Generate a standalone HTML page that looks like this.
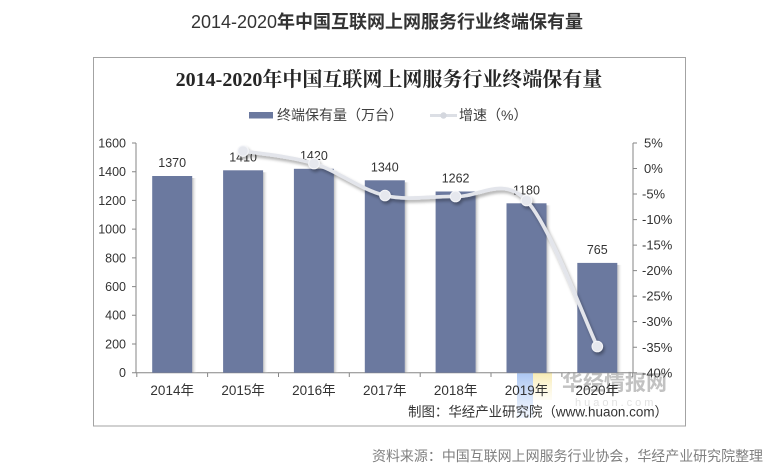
<!DOCTYPE html>
<html><head><meta charset="utf-8"><style>
html,body{margin:0;padding:0;background:#fff;}
svg{display:block;}
</style></head><body>
<svg width="769" height="475" viewBox="0 0 769 475" xmlns="http://www.w3.org/2000/svg">
<defs>
  <linearGradient id="bshadow" x1="0" x2="1" y1="0" y2="0">
    <stop offset="0" stop-color="#9a9a9a" stop-opacity="0.65"/>
    <stop offset="1" stop-color="#ffffff" stop-opacity="0"/>
  </linearGradient>
  <filter id="lshadow" x="-10%" y="-10%" width="120%" height="130%">
    <feGaussianBlur in="SourceAlpha" stdDeviation="1.6"/>
    <feOffset dx="1.5" dy="2.5" result="o"/>
    <feComponentTransfer><feFuncA type="linear" slope="0.35"/></feComponentTransfer>
    <feMerge><feMergeNode/><feMergeNode in="SourceGraphic"/></feMerge>
  </filter>
  <linearGradient id="lgBlue" x1="0" x2="0" y1="0" y2="1">
    <stop offset="0" stop-color="#9fbdf0" stop-opacity="0.9"/>
    <stop offset="1" stop-color="#cfe0fa" stop-opacity="0.3"/>
  </linearGradient>
  <linearGradient id="lgYel" x1="0" x2="0" y1="0" y2="1">
    <stop offset="0" stop-color="#f6e7a6" stop-opacity="0.9"/>
    <stop offset="1" stop-color="#fbf3d0" stop-opacity="0.2"/>
  </linearGradient>
</defs>

<!-- outer title -->
<text x="387" y="28" text-anchor="middle" font-family="'Liberation Sans','Noto Sans CJK SC',sans-serif" font-size="18" font-weight="bold" fill="#333"><tspan font-weight="normal">2014-2020</tspan>年中国互联网上网服务行业终端保有量</text>

<!-- frame -->
<rect x="93.5" y="57.5" width="592" height="368.5" fill="#fff" stroke="#a3a3a3" stroke-width="1"/>

<!-- inner title -->
<text x="389" y="86" text-anchor="middle" font-family="'Liberation Serif','Noto Serif CJK SC',serif" font-size="20" font-weight="bold" fill="#262626">2014-2020年中国互联网上网服务行业终端保有量</text>

<!-- legend -->
<rect x="249" y="112" width="24" height="6.5" fill="#6b799f"/>
<text x="277" y="120" font-family="'Liberation Sans','Noto Sans CJK SC',sans-serif" font-size="14" fill="#404040">终端保有量（万台）</text>
<line x1="430" y1="115.5" x2="457" y2="115.5" stroke="#dcdfe5" stroke-width="3"/>
<circle cx="443.5" cy="115.5" r="3.2" fill="#d4d7de"/>
<text x="459" y="120" font-family="'Liberation Sans','Noto Sans CJK SC',sans-serif" font-size="14" fill="#404040">增速（%）</text>

<!-- watermark -->
<rect x="517" y="372" width="16" height="46" fill="url(#lgBlue)"/>
<rect x="533" y="372" width="19" height="28" fill="url(#lgYel)"/>
<text x="562" y="390" font-family="'Liberation Sans','Noto Sans CJK SC',sans-serif" font-size="21" font-weight="bold" fill="#c2c2c2" textLength="105" lengthAdjust="spacingAndGlyphs">华经情报网</text>
<text x="575" y="406" font-family="'Liberation Sans',sans-serif" font-size="11" fill="#e2e2e2" letter-spacing="3">huaon.com</text>

<!-- axes -->
<g stroke="#868686" stroke-width="1" fill="none">
  <line x1="136" y1="143" x2="136" y2="373"/>
  <line x1="633" y1="143" x2="633" y2="373"/>
  <line x1="136" y1="372.7" x2="633" y2="372.7"/>
  <path d="M132 143H136M132 171.7H136M132 200.4H136M132 229.1H136M132 257.9H136M132 286.6H136M132 315.3H136M132 344H136M132 372.7H136"/>
  <path d="M633 143H637M633 168.5H637M633 194H637M633 219.6H637M633 245.1H637M633 270.6H637M633 296.1H637M633 321.6H637M633 347.2H637M633 372.7H637"/>
  <path d="M136.8 372.7V377M207.6 372.7V377M278.5 372.7V377M349.3 372.7V377M420.2 372.7V377M491 372.7V377M561.9 372.7V377M632.7 372.7V377"/>
</g>

<!-- left axis labels -->
<g font-family="'Liberation Sans',sans-serif" font-size="12.5" fill="#333" text-anchor="end">
  <text x="126" y="147.4">1600</text>
  <text x="126" y="176.1">1400</text>
  <text x="126" y="204.8">1200</text>
  <text x="126" y="233.5">1000</text>
  <text x="126" y="262.3">800</text>
  <text x="126" y="291">600</text>
  <text x="126" y="319.7">400</text>
  <text x="126" y="348.4">200</text>
  <text x="126" y="377.1">0</text>
</g>

<!-- right axis labels -->
<g font-family="'Liberation Sans',sans-serif" font-size="13" fill="#333">
  <text x="644" y="147.6">5%</text>
  <text x="644" y="173.1">0%</text>
  <text x="642" y="198.6">-5%</text>
  <text x="642" y="224.2">-10%</text>
  <text x="642" y="249.7">-15%</text>
  <text x="642" y="275.2">-20%</text>
  <text x="642" y="300.7">-25%</text>
  <text x="642" y="326.2">-30%</text>
  <text x="642" y="351.8">-35%</text>
  <text x="642" y="377.3">-40%</text>
</g>

<!-- bar shadows -->
<g fill="url(#bshadow)">
  <rect x="192.2" y="178" width="5" height="194.7"/>
  <rect x="263.1" y="172.3" width="5" height="200.4"/>
  <rect x="333.9" y="170.8" width="5" height="201.9"/>
  <rect x="404.8" y="182.3" width="5" height="190.4"/>
  <rect x="475.6" y="193.5" width="5" height="179.2"/>
  <rect x="546.5" y="205.3" width="5" height="167.4"/>
  <rect x="617.3" y="264.9" width="5" height="107.8"/>
</g>
<!-- bars -->
<g fill="#6b799f">
  <rect x="152.2" y="176" width="40" height="196.7"/>
  <rect x="223.1" y="170.3" width="40" height="202.4"/>
  <rect x="293.9" y="168.8" width="40" height="203.9"/>
  <rect x="364.8" y="180.3" width="40" height="192.4"/>
  <rect x="435.6" y="191.5" width="40" height="181.2"/>
  <rect x="506.5" y="203.3" width="40" height="169.4"/>
  <rect x="577.3" y="262.9" width="40" height="109.8"/>
</g>

<!-- data labels -->
<g font-family="'Liberation Sans',sans-serif" font-size="12.5" fill="#333" text-anchor="middle">
  <text x="172.2" y="167">1370</text>
  <text x="243.1" y="161.3">1410</text>
  <text x="313.9" y="159.8">1420</text>
  <text x="384.8" y="171.3">1340</text>
  <text x="455.6" y="182.5">1262</text>
  <text x="526.5" y="194.3">1180</text>
  <text x="597.3" y="253.9">765</text>
</g>

<!-- growth line -->
<g filter="url(#lshadow)">
  <path d="M243 151 C254.8 153.1 290.3 156.1 314 163.5 C337.7 170.9 361.4 190 385 195.5 C408.6 201 432 195.7 455.6 196.5 C479.2 197.3 502.9 175.5 526.5 200.5 C550.1 225.5 585.5 322.2 597.3 346.5" fill="none" stroke="#e3e5eb" stroke-width="3.6" stroke-linecap="round"/>
  <g fill="#e6e8ee" stroke="#f4f5f8" stroke-width="1">
    <circle cx="243" cy="151" r="5.3"/>
    <circle cx="314" cy="163.5" r="5.3"/>
    <circle cx="385" cy="195.5" r="5.3"/>
    <circle cx="455.6" cy="196.5" r="5.3"/>
    <circle cx="526.5" cy="200.5" r="5.3"/>
    <circle cx="597.3" cy="346.5" r="5.3"/>
  </g>
</g>

<!-- category labels -->
<g font-family="'Liberation Sans','Noto Sans CJK SC',sans-serif" font-size="13.5" fill="#333" text-anchor="middle">
  <text x="172.2" y="395">2014年</text>
  <text x="243.1" y="395">2015年</text>
  <text x="313.9" y="395">2016年</text>
  <text x="384.8" y="395">2017年</text>
  <text x="455.6" y="395">2018年</text>
  <text x="526.5" y="395">2019年</text>
  <text x="597.3" y="395">2020年</text>
</g>

<!-- credit -->
<text x="668" y="416.5" text-anchor="end" font-family="'Liberation Sans','Noto Sans CJK SC',sans-serif" font-size="13.5" fill="#333" textLength="260" lengthAdjust="spacingAndGlyphs">制图：华经产业研究院（www.huaon.com）</text>

<!-- source -->
<text x="763" y="461" text-anchor="end" font-family="'Liberation Sans','Noto Sans CJK SC',sans-serif" font-size="14" fill="#7f7f7f" textLength="391" lengthAdjust="spacingAndGlyphs">资料来源：中国互联网上网服务行业协会，华经产业研究院整理</text>
</svg>
</body></html>
